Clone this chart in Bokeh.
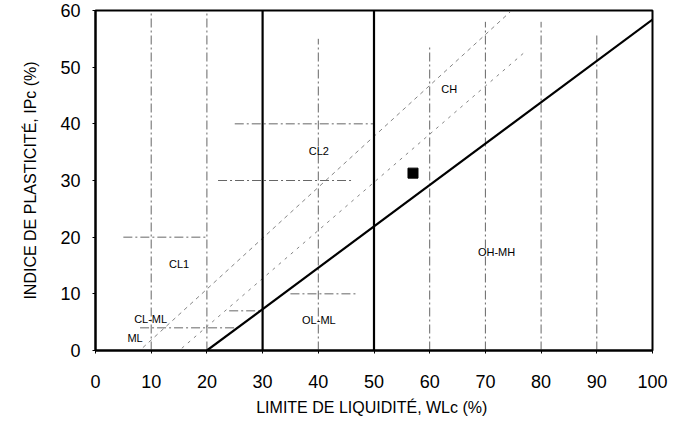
from bokeh.plotting import figure
from bokeh.models import FixedTicker, Range1d, Title
from bokeh.core.properties import value
from bokeh.embed import file_html
from bokeh.resources import INLINE

# ---- data ----
x_ticks = [0, 10, 20, 30, 40, 50, 60, 70, 80, 90, 100]
y_ticks = [0, 10, 20, 30, 40, 50, 60]

# thin dash-dot guide lines (vertical)
vg_x = [10, 20, 40, 60, 70, 80, 90]
vg_y0 = [0, 0, 0, 0, 0, 0, 0]
vg_y1 = [60, 60, 55, 54, 58, 58, 56]

# thin dash-dot guide lines (horizontal)
hg_y = [20, 4, 30, 40, 10, 7]
hg_x0 = [5, 8, 22, 25, 35, 24]
hg_x1 = [20, 25, 46, 50, 47, 30]

# thick boundaries
wl_limits = [30, 50]
a_line_x = [20, 100]
a_line_y = [0, 58.4]

# dashed diagonals
u_line_x = [8.5, 74.5]
u_line_y = [0.5, 59.8]
d2_x = [15.5, 77]
d2_y = [0.4, 52.6]

# sample point
pt_x = [57]
pt_y = [31.3]

# zone labels
zone_names = ["CL1", "CL-ML", "ML", "CL2", "CH", "OL-ML", "OH-MH"]
zone_x = [15, 9.9, 7.1, 40.1, 63.5, 40.1, 72]
zone_y = [15.2, 5.6, 2.2, 35.2, 46.1, 5.4, 17.3]

x_title = "LIMITE DE LIQUIDITÉ, WLc  (%)"
y_title = "INDICE DE PLASTICITÉ, IPc (%)"

FONT = "Liberation Sans"

p = figure(width=678, height=430, output_backend="svg", toolbar_location=None,
           x_range=Range1d(0, 100), y_range=Range1d(0, 60),
           min_border_left=95, min_border_right=26, min_border_top=10,
           min_border_bottom=80)
p.xgrid.visible = False
p.ygrid.visible = False
p.outline_line_color = "black"
p.outline_line_width = 2
p.background_fill_color = "white"
p.border_fill_color = "white"

# guide lines
for x, a, b in zip(vg_x, vg_y0, vg_y1):
    p.line([x, x], [a, b], line_color="#555555", line_width=0.9, line_dash="9 3 2 3")
for y, a, b in zip(hg_y, hg_x0, hg_x1):
    p.line([a, b], [y, y], line_color="#555555", line_width=0.9, line_dash="9 3 2 3")

# diagonals
p.line(u_line_x, u_line_y, line_color="#777777", line_width=0.9, line_dash="4 4")
p.line(d2_x, d2_y, line_color="#777777", line_width=0.9, line_dash="3 5")

# thick lines
for x in wl_limits:
    p.line([x, x], [0, 60], line_color="black", line_width=2.2)
p.line(a_line_x, a_line_y, line_color="black", line_width=2.2)

# point
p.scatter(pt_x, pt_y, marker="square", size=10, fill_color="black", line_color="black")

# labels
p.text(zone_x, zone_y, text=zone_names, text_font=value(FONT), text_font_size="11px",
       text_align="center", text_baseline="middle", text_color="black")

# axes
for ax in (p.xaxis[0], p.yaxis[0]):
    ax.major_label_text_font = FONT
    ax.major_label_text_font_size = "18px"
    ax.major_label_text_color = "black"
    ax.axis_label_text_font = FONT
    ax.axis_label_text_font_size = "16px"
    ax.axis_label_text_font_style = "normal"
    ax.axis_label_text_color = "black"
    ax.axis_line_color = "black"
    ax.axis_line_width = 2
    ax.major_tick_line_color = "black"
    ax.major_tick_in = 0
    ax.major_tick_out = 3
    ax.minor_tick_line_color = None

p.xaxis.ticker = FixedTicker(ticks=x_ticks)
p.yaxis.ticker = FixedTicker(ticks=y_ticks)
p.yaxis.axis_label = y_title
p.xaxis.major_label_standoff = 21
p.yaxis.major_label_standoff = 12
p.yaxis.axis_label_standoff = 18

# x-axis title as a bottom title panel
p.add_layout(Title(text=x_title, align="center", text_font=FONT, text_font_size="16px",
                   text_font_style="normal", text_color="black", standoff=12, offset=0),
             "below")

open("out.html", "w").write(file_html(p, INLINE))
